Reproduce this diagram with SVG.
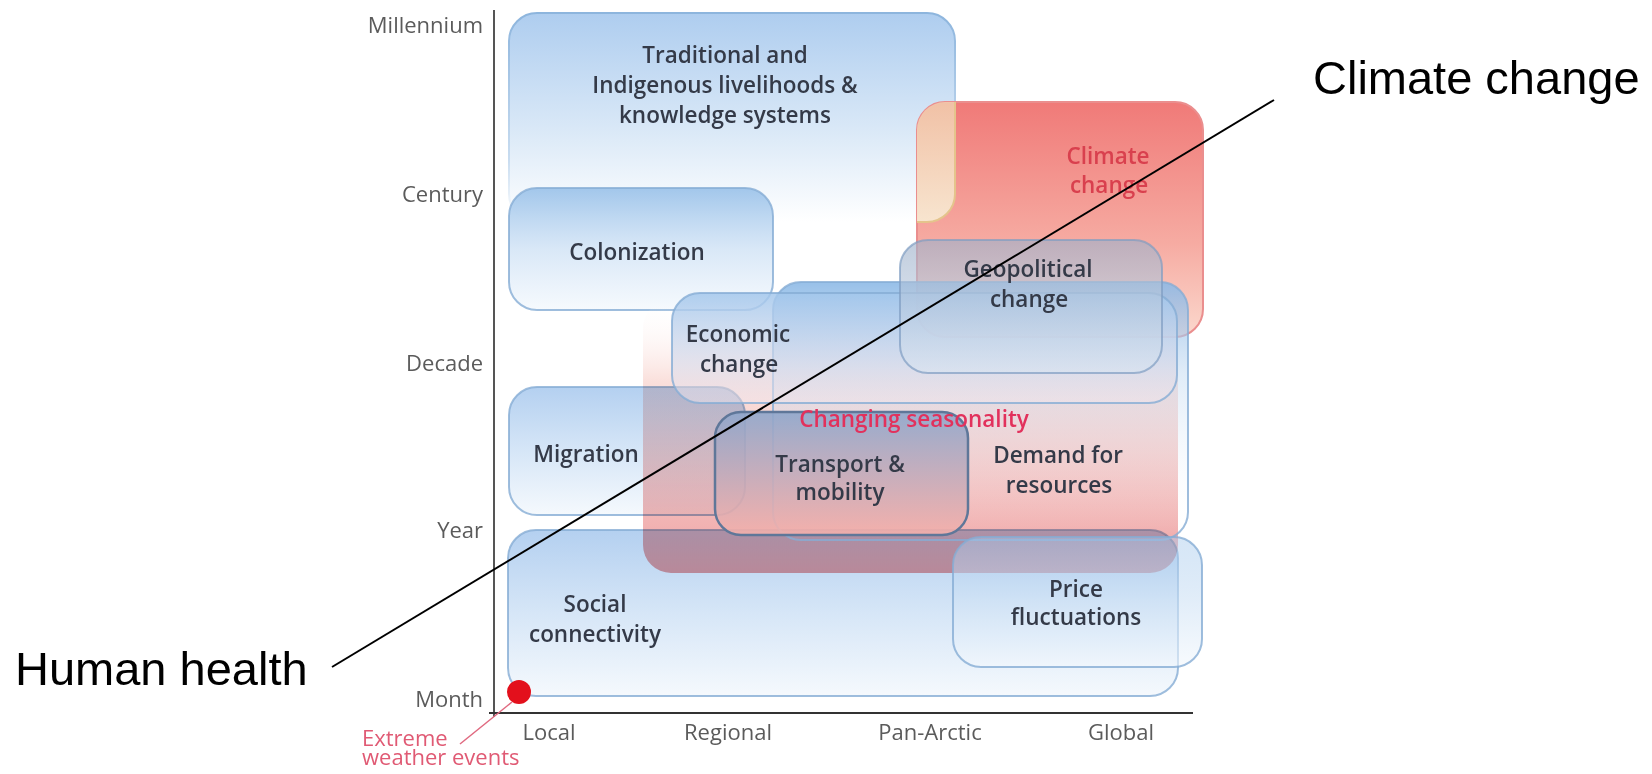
<svg xmlns="http://www.w3.org/2000/svg" width="1652" height="774" viewBox="0 0 1652 774">
<style>
.ax{font-family:"Open Sans","Noto Sans","Liberation Sans",sans-serif;font-size:22px;fill:#5b5b5b}
.lb{font-family:"Open Sans","Noto Sans","Liberation Sans",sans-serif;font-size:22.5px;font-weight:600;fill:#343a48;text-anchor:middle}
.red{font-family:"Open Sans","Noto Sans","Liberation Sans",sans-serif;font-size:22.5px;font-weight:600;fill:#d9404e;text-anchor:middle}
.big{font-family:"Liberation Sans",Arial,sans-serif;font-size:47px;fill:#000}
.bx{stroke:#86acd4;stroke-width:2;stroke-opacity:0.8}
.mul{mix-blend-mode:multiply}
</style>
<defs>
<linearGradient id="gTrad" x1="0" y1="0" x2="0" y2="1"><stop offset="0" stop-color="#aecdef"/><stop offset="0.55" stop-color="#d9e8f7"/><stop offset="1" stop-color="#ffffff"/></linearGradient>
<linearGradient id="gTradS" x1="0" y1="0" x2="0" y2="1"><stop offset="0" stop-color="#8db5dd"/><stop offset="0.7" stop-color="#c8dcf0"/><stop offset="1" stop-color="#ffffff"/></linearGradient>
<linearGradient id="gBlue" x1="0" y1="0" x2="0" y2="1"><stop offset="0" stop-color="#9ec4ea" stop-opacity="0.95"/><stop offset="0.5" stop-color="#cfe2f5" stop-opacity="0.8"/><stop offset="1" stop-color="#f3f8fd" stop-opacity="0.75"/></linearGradient>
<linearGradient id="gMul" x1="0" y1="0" x2="0" y2="1"><stop offset="0" stop-color="#b4d0f0"/><stop offset="0.5" stop-color="#d6e6f7"/><stop offset="1" stop-color="#f5f9fd"/></linearGradient>
<linearGradient id="gPrice" x1="0" y1="0" x2="0" y2="1"><stop offset="0" stop-color="#a4c8ec" stop-opacity="0.45"/><stop offset="0.5" stop-color="#cfe2f5" stop-opacity="0.6"/><stop offset="1" stop-color="#f3f8fd" stop-opacity="0.6"/></linearGradient>
<linearGradient id="gRed" x1="0" y1="0" x2="0" y2="1"><stop offset="0" stop-color="#f07a78"/><stop offset="0.6" stop-color="#f6aba2"/><stop offset="1" stop-color="#fbd8cd"/></linearGradient>
<linearGradient id="gOver" x1="0" y1="0" x2="0" y2="1"><stop offset="0" stop-color="#ecb48f"/><stop offset="1" stop-color="#f8f0d8"/></linearGradient>
<linearGradient id="gSeason" x1="0" y1="0" x2="0" y2="1"><stop offset="0" stop-color="#ffffff" stop-opacity="0"/><stop offset="0.3" stop-color="#f8d2cc" stop-opacity="0.7"/><stop offset="1" stop-color="#ee9fa1"/></linearGradient>
<linearGradient id="gDemand" x1="0" y1="0" x2="0" y2="1"><stop offset="0" stop-color="#8cb9e6" stop-opacity="0.9"/><stop offset="0.35" stop-color="#b9d4ef" stop-opacity="0.45"/><stop offset="1" stop-color="#ffffff" stop-opacity="0"/></linearGradient>
<linearGradient id="gEcon" x1="0" y1="0" x2="0" y2="1"><stop offset="0" stop-color="#a3c7ec" stop-opacity="0.85"/><stop offset="1" stop-color="#f2e6ec" stop-opacity="0.5"/></linearGradient>
<linearGradient id="gGeo" x1="0" y1="0" x2="0" y2="1"><stop offset="0" stop-color="#9db0ca" stop-opacity="0.85"/><stop offset="1" stop-color="#d8e5f2" stop-opacity="0.75"/></linearGradient>
<linearGradient id="gTrans" x1="0" y1="0" x2="0" y2="1"><stop offset="0" stop-color="#8ea6cb" stop-opacity="0.9"/><stop offset="1" stop-color="#f4b0ab" stop-opacity="0.9"/></linearGradient>
<clipPath id="cClim"><rect x="917" y="102" width="286" height="235" rx="28"/></clipPath>
</defs>
<rect width="1652" height="774" fill="#ffffff"/>

<g id="traditional">
<rect x="509" y="13" width="446" height="209" rx="28" fill="url(#gTrad)" stroke="url(#gTradS)" stroke-width="2"/>
<text class="lb" x="725" y="63">Traditional and</text>
<text class="lb" x="725" y="93">Indigenous livelihoods &amp;</text>
<text class="lb" x="725" y="123">knowledge systems</text>
</g>

<g id="climate-box">
<rect x="917" y="102" width="286" height="235" rx="28" fill="url(#gRed)" stroke="#ea8e8e" stroke-width="2"/>
<rect x="509" y="13" width="446" height="209" rx="28" clip-path="url(#cClim)" fill="url(#gOver)" fill-opacity="0.85" stroke="#e4c48c" stroke-width="2"/>
<text class="red" x="1108" y="164">Climate</text>
<text class="red" x="1109" y="193">change</text>
</g>

<g id="colonization">
<rect x="509" y="188" width="264" height="122" rx="28" class="bx" fill="url(#gBlue)"/>
<text class="lb" x="637" y="260">Colonization</text>
</g>

<g id="seasonality">
<rect x="643" y="300" width="535" height="273" rx="28" fill="url(#gSeason)"/>
</g>

<g id="migration">
<rect x="509" y="387" width="236" height="128" rx="28" class="bx mul" fill="url(#gMul)"/>
<text class="lb" x="586" y="462">Migration</text>
</g>

<g id="social">
<rect x="508" y="530" width="670" height="166" rx="28" class="bx mul" fill="url(#gMul)"/>
<text class="lb" x="595" y="612">Social</text>
<text class="lb" x="595" y="642">connectivity</text>
</g>

<g id="demand">
<rect x="773" y="282" width="415" height="258" rx="28" class="bx" fill="url(#gDemand)"/>
<text class="lb" x="1058" y="463">Demand for</text>
<text class="lb" x="1059" y="493">resources</text>
</g>

<g id="economic">
<rect x="672" y="293" width="505" height="110" rx="28" class="bx" fill="url(#gEcon)"/>
<text class="lb" x="738" y="342">Economic</text>
<text class="lb" x="739" y="372">change</text>
</g>

<g id="geopolitical">
<rect x="900" y="240" width="262" height="133" rx="28" stroke="#7f9dc2" stroke-width="2" stroke-opacity="0.7" fill="url(#gGeo)" fill-opacity="0.75"/>
<text class="lb" x="1028" y="277">Geopolitical</text>
<text class="lb" x="1029" y="307">change</text>
</g>

<g id="transport">
<rect x="715" y="412" width="253" height="123" rx="26" stroke="#5f7799" stroke-width="2.5" fill="url(#gTrans)"/>
<text class="lb" x="840" y="472">Transport &amp;</text>
<text class="lb" x="840" y="500">mobility</text>
</g>

<g id="price">
<rect x="953" y="537" width="249" height="130" rx="28" class="bx" fill="url(#gPrice)"/>
<text class="lb" x="1076" y="597">Price</text>
<text class="lb" x="1076" y="625">fluctuations</text>
</g>

<g id="seasonality-label">
<text class="red" x="914" y="427" style="fill:#e2315c">Changing seasonality</text>
</g>

<g id="axes">
<line x1="494" y1="10" x2="494" y2="717" stroke="#555" stroke-width="2"/>
<line x1="489" y1="713" x2="1193" y2="713" stroke="#333" stroke-width="2"/>
<g class="ax" text-anchor="end">
<text x="483" y="33">Millennium</text>
<text x="483" y="202">Century</text>
<text x="483" y="371">Decade</text>
<text x="483" y="538">Year</text>
<text x="483" y="707">Month</text>
</g>
<g class="ax" text-anchor="middle">
<text x="549" y="740">Local</text>
<text x="728" y="740">Regional</text>
<text x="930" y="740">Pan-Arctic</text>
<text x="1121" y="740">Global</text>
</g>
</g>

<g id="extreme-weather">
<circle cx="519" cy="692" r="12" fill="#e3101c"/>
<text class="ax" x="362" y="746" style="fill:#e05a74">Extreme</text>
<text class="ax" x="362" y="765" style="fill:#e05a74">weather events</text>
</g>

<g id="connectors">
<line x1="460" y1="744" x2="512" y2="702" stroke="#e06a80" stroke-width="1.5"/>
<line x1="332" y1="667" x2="1274" y2="100" stroke="#000" stroke-width="2"/>
</g>

<g id="human-health"><text class="big" x="15" y="685">Human health</text></g>
<g id="climate-change"><text class="big" x="1313" y="94">Climate change</text></g>
</svg>
